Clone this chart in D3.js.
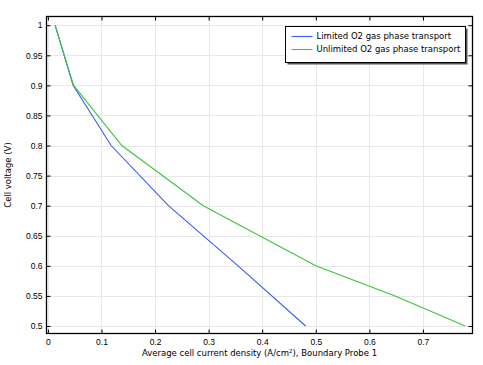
<!DOCTYPE html>
<html>
<head>
<meta charset="utf-8">
<script src="https://cdn.jsdelivr.net/npm/d3@7"></script>
<style>
body { margin: 0; background: #fff; }
svg { display: block; font-family: "DejaVu Sans", sans-serif; }
</style>
</head>
<body>
<svg id="chart" width="483" height="365"></svg>
<script>
// current density (A/cm^2) vs cell voltage (V)
var limitedX = [0.0135, 0.047, 0.118, 0.225, 0.355, 0.481];
var limitedY = [1.0, 0.9, 0.8, 0.7, 0.6, 0.5];
var unlimitedX = [0.0135, 0.048, 0.138, 0.29, 0.5, 0.648, 0.779];
var unlimitedY = [1.0, 0.9, 0.8, 0.7, 0.6, 0.55, 0.5];
var xTicks = [0, 0.1, 0.2, 0.3, 0.4, 0.5, 0.6, 0.7];
var yTicks = [0.5, 0.55, 0.6, 0.65, 0.7, 0.75, 0.8, 0.85, 0.9, 0.95, 1];
var seriesNames = ["Limited O2 gas phase transport", "Unlimited O2 gas phase transport"];
var seriesColors = ["#3a5cf0", "#3fc43f"];

var svg = d3.select("#chart");
var margin = {left: 46.5, right: 10.5, top: 16.5, bottom: 31.5};
var W = 483, H = 365;
var fs = "8.5px";

var x = d3.scaleLinear().domain([-0.0026, 0.7925]).range([margin.left, W - margin.right]);
var y = d3.scaleLinear().domain([0.4875, 1.0145]).range([H - margin.bottom, margin.top]);

// grid
var grid = svg.append("g").attr("stroke", "#e8e8e8").attr("stroke-width", 1);
grid.selectAll(".gx").data(xTicks).enter().append("line")
	.attr("x1", function(d){ return Math.round(x(d)) + 0.5; })
	.attr("x2", function(d){ return Math.round(x(d)) + 0.5; })
	.attr("y1", margin.top).attr("y2", H - margin.bottom);
grid.selectAll(".gy").data(yTicks).enter().append("line")
	.attr("y1", function(d){ return Math.round(y(d)) + 0.5; })
	.attr("y2", function(d){ return Math.round(y(d)) + 0.5; })
	.attr("x1", margin.left).attr("x2", W - margin.right);

// lines
var line = d3.line().x(function(d){ return x(d[0]); }).y(function(d){ return y(d[1]); });
var series = [d3.zip(limitedX, limitedY), d3.zip(unlimitedX, unlimitedY)];
svg.selectAll(".series").data(series).enter().append("path")
	.attr("class", "series")
	.attr("d", line)
	.attr("fill", "none")
	.attr("stroke", function(d, i){ return seriesColors[i]; })
	.attr("stroke-width", 1.1);

// axes, ticks pointing inward on all four sides
function styleAxis(g) {
	g.select(".domain").remove();
	g.selectAll(".tick line").attr("stroke", "#000");
	g.selectAll(".tick text").attr("fill", "#000").attr("font-size", fs);
}
var yb = H - margin.bottom;
svg.append("g").attr("transform", "translate(0," + yb + ")")
	.call(d3.axisBottom(x).tickValues(xTicks).tickSize(-4).tickPadding(5).tickFormat(d3.format("")))
	.call(styleAxis);
svg.append("g").attr("transform", "translate(0," + margin.top + ")")
	.call(d3.axisTop(x).tickValues(xTicks).tickSize(-4).tickFormat(""))
	.call(styleAxis);
svg.append("g").attr("transform", "translate(" + margin.left + ",0)")
	.call(d3.axisLeft(y).tickValues(yTicks).tickSize(-4).tickPadding(4).tickFormat(d3.format("")))
	.call(styleAxis);
svg.append("g").attr("transform", "translate(" + (W - margin.right) + ",0)")
	.call(d3.axisRight(y).tickValues(yTicks).tickSize(-4).tickFormat(""))
	.call(styleAxis);

svg.append("rect")
	.attr("x", margin.left).attr("y", margin.top)
	.attr("width", W - margin.right - margin.left)
	.attr("height", H - margin.bottom - margin.top)
	.attr("fill", "none").attr("stroke", "#000").attr("stroke-width", 1.3);

// axis titles
var xt = svg.append("text")
	.attr("x", (margin.left + W - margin.right) / 2).attr("y", 356)
	.attr("text-anchor", "middle").attr("font-size", fs);
xt.append("tspan").text("Average cell current density (A/cm");
xt.append("tspan").attr("font-size", "5.5px").attr("dy", -3.5).text("2");
xt.append("tspan").attr("dy", 3.5).text("), Boundary Probe 1");

svg.append("text")
	.attr("transform", "translate(11," + ((margin.top + H - margin.bottom) / 2) + ") rotate(-90)")
	.attr("text-anchor", "middle").attr("font-size", fs)
	.text("Cell voltage (V)");

// legend
var lg = svg.append("g").attr("transform", "translate(285.5,26.5)");
lg.append("rect").attr("x", 2).attr("y", 2).attr("width", 180).attr("height", 36).attr("fill", "#555");
lg.append("rect").attr("width", 180).attr("height", 36).attr("fill", "#fff").attr("stroke", "#000");
var items = lg.selectAll(".item").data(seriesNames).enter().append("g")
	.attr("transform", function(d, i){ return "translate(0," + (10 + i * 13) + ")"; });
items.append("line").attr("x1", 6).attr("x2", 27)
	.attr("stroke", function(d, i){ return seriesColors[i]; }).attr("stroke-width", 1.1);
items.append("text").attr("x", 31).attr("dy", "0.35em").attr("font-size", fs).text(function(d){ return d; });
</script>
</body>
</html>
